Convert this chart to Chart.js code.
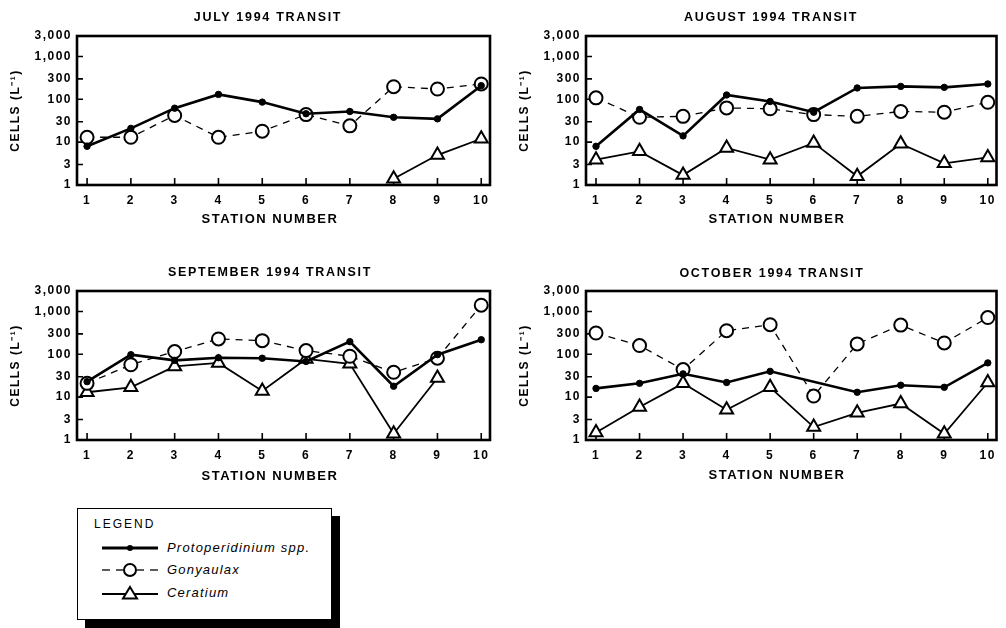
<!DOCTYPE html>
<html>
<head>
<meta charset="utf-8">
<script src="https://cdn.jsdelivr.net/npm/chart.js@4"></script>
<style>
  body { margin: 0; background: #fff; font-family: "Liberation Sans", Arial, sans-serif; color: #000; }
  #page { position: relative; width: 1006px; height: 628px; overflow: hidden; }
  .panel { position: absolute; width: 500px; height: 215px; }
  .ttl { position: absolute; font-weight: bold; font-size: 12.5px; letter-spacing: 1.7px; white-space: nowrap; transform: translate(-50%, -50%); }
  .xt { position: absolute; font-weight: bold; font-size: 13px; letter-spacing: 1.5px; white-space: nowrap; transform: translate(-50%, -50%); }
  #legend { position: absolute; left: 77px; top: 508px; width: 253px; height: 110px; border: 1.5px solid #000; background: #fff; box-shadow: 8px 8px 0 #000; }
  #legend .head { position: absolute; left: 16px; top: 8px; font-size: 12px; letter-spacing: 2px; }
  #legend .row { position: absolute; left: 23px; height: 16px; }
  #legend svg { position: absolute; left: 0; top: 0; }
  #legend .lab { position: absolute; left: 66px; top: 0; font-style: italic; font-size: 13px; letter-spacing: 1.2px; white-space: nowrap; line-height: 16px; }
</style>
</head>
<body>
<div id="page">
  <div class="panel" style="left:0;top:0"><canvas id="c1"></canvas></div>
  <div class="panel" style="left:509px;top:0;width:497px"><canvas id="c2"></canvas></div>
  <div class="panel" style="left:0;top:255px"><canvas id="c3"></canvas></div>
  <div class="panel" style="left:509px;top:255px;width:497px"><canvas id="c4"></canvas></div>

  <div class="ttl" style="left:268px;top:17px">JULY 1994 TRANSIT</div>
  <div class="ttl" style="left:771px;top:17px">AUGUST 1994 TRANSIT</div>
  <div class="ttl" style="left:270px;top:272px">SEPTEMBER 1994 TRANSIT</div>
  <div class="ttl" style="left:772px;top:273px">OCTOBER 1994 TRANSIT</div>

  <div class="xt" style="left:270px;top:218px">STATION NUMBER</div>
  <div class="xt" style="left:777px;top:218px">STATION NUMBER</div>
  <div class="xt" style="left:270px;top:475px">STATION NUMBER</div>
  <div class="xt" style="left:777px;top:474px">STATION NUMBER</div>

  <div id="legend">
    <div class="head">LEGEND</div>
    <div class="row" style="top:31px">
      <svg width="58" height="16"><line x1="1" y1="8" x2="57" y2="8" stroke="#000" stroke-width="3"/><circle cx="29" cy="8" r="3" fill="#000"/></svg>
      <div class="lab">Protoperidinium spp.</div>
    </div>
    <div class="row" style="top:53px">
      <svg width="58" height="16"><line x1="1" y1="8" x2="9" y2="8" stroke="#000" stroke-width="1.3"/><line x1="15" y1="8" x2="22" y2="8" stroke="#000" stroke-width="1.3"/><line x1="36" y1="8" x2="43" y2="8" stroke="#000" stroke-width="1.3"/><line x1="49" y1="8" x2="57" y2="8" stroke="#000" stroke-width="1.3"/><circle cx="29" cy="8" r="6" fill="#fff" stroke="#000" stroke-width="2"/></svg>
      <div class="lab">Gonyaulax</div>
    </div>
    <div class="row" style="top:76px">
      <svg width="58" height="16"><line x1="1" y1="9" x2="57" y2="9" stroke="#000" stroke-width="1.8"/><polygon points="29,2 36,13.5 22,13.5" fill="#fff" stroke="#000" stroke-width="2"/></svg>
      <div class="lab">Ceratium</div>
    </div>
  </div>
</div>

<script>
// stations 1..10 and the log axis ticks
const stations = [1, 2, 3, 4, 5, 6, 7, 8, 9, 10];
const yTicks = [1, 3, 10, 30, 100, 300, 1000, 3000];

// cells per litre
const julyProto = [8, 21, 62, 130, 86, 46, 52, 38, 35, 208];
const julyGony  = [13, 13, 42, 13, 18, 44, 24, 197, 174, 228];
const julyCera  = [null, null, null, null, null, null, null, 1.4, 5, 12];

const augProto = [8, 58, 14, 126, 89, 50, 184, 200, 190, 228];
const augGony  = [108, 38, 40, 63, 60, 44, 40, 52, 50, 85];
const augCera  = [3.9, 6.1, 1.7, 7.3, 3.9, 9.6, 1.6, 9.2, 3.2, 4.4];

const sepProto = [23, 98, 72, 83, 81, 68, 197, 18, 98, 219];
const sepGony  = [21, 57, 116, 228, 208, 122, 90, 38, 81, 1400];
const sepCera  = [13, 17, 52, 63, 14, 78, 60, 1.4, 28, null];

const octProto = [16, 21, 35, 22, 40, null, 13, 19, 17, 63];
const octGony  = [314, 160, 44, 355, 490, 10.6, 175, 480, 184, 720];
const octCera  = [1.5, 5.9, 21, 5.1, 17, 2.0, 4.3, 7.1, 1.4, 22];

Chart.defaults.font.family = '"Liberation Sans", Arial, sans-serif';
Chart.defaults.color = '#000';

// wide lettering like the original
const spacing = {
  id: 'spacing',
  beforeLayout(chart) { chart.ctx.letterSpacing = '1.5px'; },
  beforeDraw(chart) { chart.ctx.letterSpacing = '1.5px'; }
};

// heavy frame with ticks pointing inward
const frame = {
  id: 'frame',
  beforeDatasetsDraw(chart) {
    const ctx = chart.ctx, a = chart.chartArea;
    const x = chart.scales.x, y = chart.scales.y;
    ctx.save();
    ctx.strokeStyle = '#000';
    ctx.lineWidth = 1.6;
    ctx.beginPath();
    yTicks.forEach(v => {
      const py = y.getPixelForValue(v);
      ctx.moveTo(a.left, py); ctx.lineTo(a.left + 6, py);
    });
    stations.forEach(v => {
      const px = x.getPixelForValue(v);
      ctx.moveTo(px, a.bottom); ctx.lineTo(px, a.bottom - 7);
    });
    ctx.stroke();
    ctx.lineWidth = 2.6;
    ctx.strokeRect(a.left, a.top, a.width, a.height);
    ctx.restore();
  }
};

function pts(vals) {
  return stations.map((s, i) => ({ x: s, y: vals[i] }));
}

function makeChart(id, proto, gony, cera, padRight) {
  new Chart(document.getElementById(id), {
    type: 'line',
    data: {
      datasets: [
        {
          label: 'Protoperidinium spp.',
          data: pts(proto),
          borderColor: '#000', borderWidth: 2.6,
          pointStyle: 'circle', pointRadius: 3.2,
          pointBackgroundColor: '#000', pointBorderColor: '#000', pointBorderWidth: 1,
          spanGaps: true, clip: false, tension: 0
        },
        {
          label: 'Gonyaulax',
          data: pts(gony),
          borderColor: '#000', borderWidth: 1.3, borderDash: [7, 6],
          pointStyle: 'circle', pointRadius: 6.5,
          pointBackgroundColor: '#fff', pointBorderColor: '#000', pointBorderWidth: 2,
          clip: false, tension: 0
        },
        {
          label: 'Ceratium',
          data: pts(cera),
          borderColor: '#000', borderWidth: 1.8,
          pointStyle: 'triangle', pointRadius: 7.5,
          pointBackgroundColor: '#fff', pointBorderColor: '#000', pointBorderWidth: 2,
          clip: false, tension: 0
        }
      ]
    },
    options: {
      responsive: true,
      maintainAspectRatio: false,
      animation: false,
      layout: { padding: { top: 36, right: padRight, left: 0, bottom: 0 } },
      plugins: { legend: { display: false }, tooltip: { enabled: false }, title: { display: false } },
      scales: {
        x: {
          type: 'linear', min: 0.77, max: 10.2,
          afterBuildTicks: s => { s.ticks = stations.map(v => ({ value: v })); },
          afterFit: s => { s.height = 30; },
          grid: { display: false, drawTicks: false },
          border: { display: false },
          ticks: { font: { size: 12, weight: 'bold' }, padding: 8, maxRotation: 0 }
        },
        y: {
          type: 'logarithmic', min: 1, max: 3000,
          afterBuildTicks: s => { s.ticks = yTicks.map(v => ({ value: v })); },
          afterFit: s => { s.width = 77; },
          grid: { display: false, drawTicks: false },
          border: { display: false },
          ticks: {
            font: { size: 12, weight: 'bold' }, padding: 5,
            callback: v => Number(v).toLocaleString('en-US')
          },
          title: {
            display: true, text: 'CELLS (L\u207B\u00B9)',
            font: { size: 12, weight: 'bold' }, padding: { top: 8, bottom: 0 }
          }
        }
      }
    },
    plugins: [spacing, frame]
  });
}

makeChart('c1', julyProto, julyGony, julyCera, 10);
makeChart('c2', augProto, augGony, augCera, 8);
makeChart('c3', sepProto, sepGony, sepCera, 10);
makeChart('c4', octProto, octGony, octCera, 8);
</script>
</body>
</html>
